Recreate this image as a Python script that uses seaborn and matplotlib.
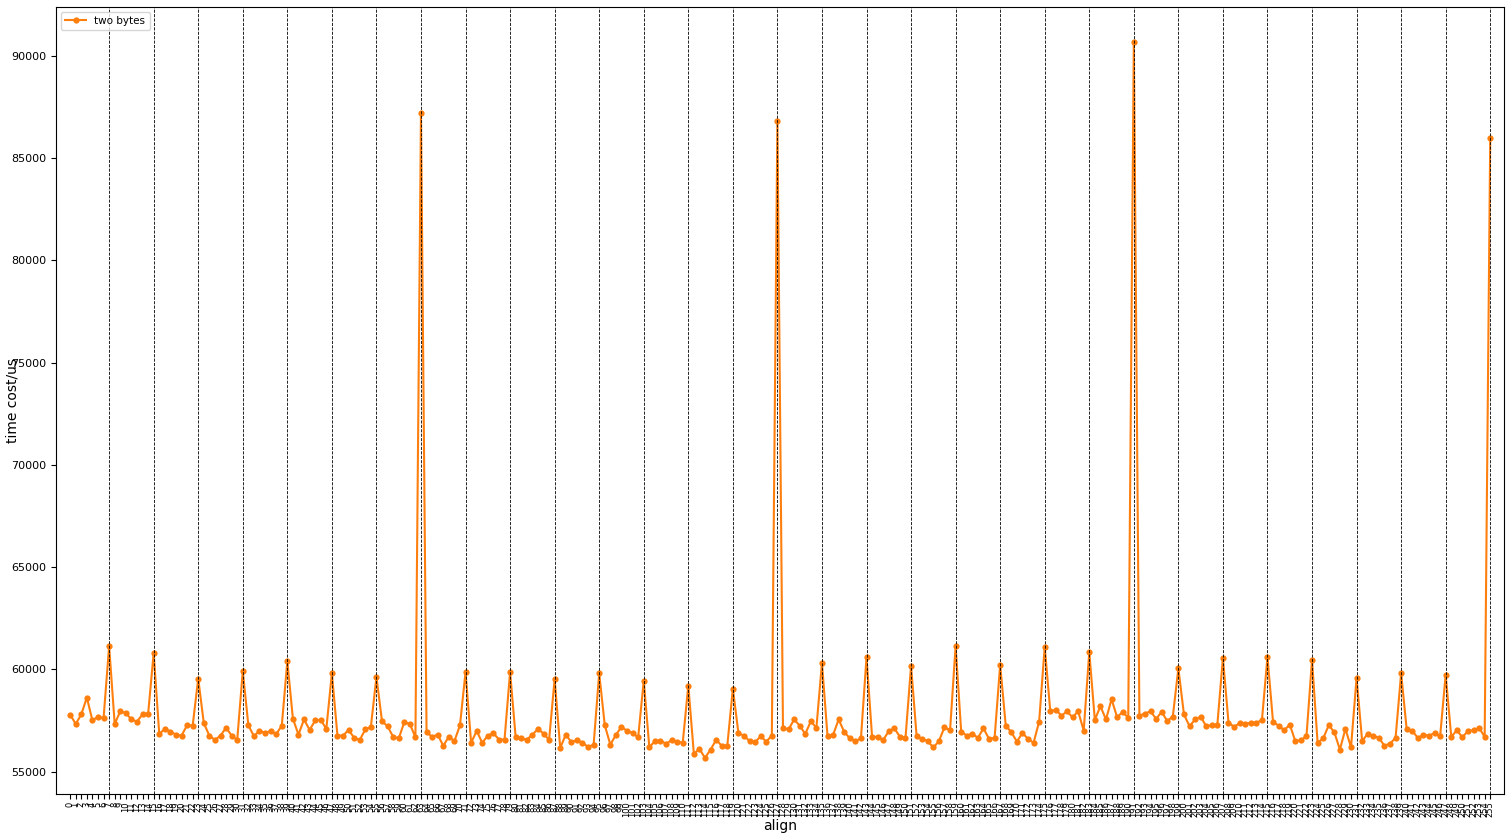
import matplotlib
matplotlib.use("Agg")
import matplotlib.pyplot as plt
import numpy as np
import pandas as pd
import seaborn as sns

# alignment offsets 0..255
align = list(range(256))

time_cost = [
    57790, 57330, 57800, 58620, 57500, 57690, 57610, 61130,
    57330, 57950, 57870, 57550, 57450, 57800, 57820, 60800,
    56840, 57090, 56960, 56810, 56760, 57270, 57250, 59550,
    57370, 56760, 56550, 56760, 57150, 56760, 56550, 59910,
    57270, 56730, 57010, 56890, 56990, 56840, 57240, 60400,
    57590, 56810, 57550, 57040, 57500, 57530, 57090, 59810,
    56760, 56760, 57040, 56650, 56550, 57060, 57190, 59630,
    57460, 57220, 56700, 56620, 57420, 57330, 56680, 87200,
    56930, 56700, 56810, 56260, 56710, 56490, 57270, 59870,
    56410, 56990, 56410, 56760, 56880, 56570, 56570, 59870,
    56680, 56620, 56570, 56800, 57090, 56860, 56550, 59520,
    56160, 56810, 56440, 56540, 56410, 56210, 56320, 59810,
    57270, 56320, 56800, 57190, 56990, 56890, 56680, 59450,
    56190, 56490, 56520, 56360, 56540, 56470, 56410, 59210,
    55870, 56110, 55670, 56080, 56550, 56270, 56260, 59060,
    56880, 56760, 56490, 56440, 56730, 56470, 56760, 86820,
    57140, 57060, 57550, 57250, 56840, 57460, 57140, 60310,
    56730, 56800, 57550, 56940, 56630, 56490, 56630, 60590,
    56700, 56700, 56550, 56980, 57120, 56700, 56650, 60170,
    56730, 56600, 56490, 56180, 56490, 57170, 57020, 61130,
    56960, 56760, 56860, 56650, 57120, 56600, 56650, 60220,
    57250, 56930, 56470, 56890, 56600, 56410, 57450, 61100,
    57950, 58020, 57740, 57940, 57660, 57950, 57010, 60840,
    57530, 58200, 57550, 58540, 57660, 57920, 57630, 90650,
    57740, 57840, 57950, 57580, 57920, 57480, 57690, 60050,
    57800, 57220, 57550, 57680, 57220, 57270, 57300, 60560,
    57400, 57190, 57370, 57350, 57380, 57400, 57500, 60610,
    57420, 57250, 57020, 57300, 56490, 56540, 56730, 60460,
    56410, 56620, 57270, 56930, 56080, 57090, 56190, 59580,
    56490, 56860, 56760, 56650, 56270, 56370, 56650, 59810,
    57060, 56990, 56650, 56800, 56760, 56880, 56730, 59730,
    56700, 57020, 56680, 56990, 57020, 57140, 56700, 86000,
]

# boundaries every 8 bytes
boundaries = list(range(7, 256, 8))

df = pd.DataFrame({"align": align, "time": time_cost})

fig, ax = plt.subplots(figsize=(15.12, 8.39), dpi=100)
fig.subplots_adjust(left=0.037, right=0.995, top=0.992, bottom=0.054)

sns.lineplot(data=df, x="align", y="time", marker="o", markersize=4.5,
             markeredgewidth=0, color="#ff7f0e", linewidth=1.5,
             label="two bytes", ax=ax)

for b in boundaries:
    ax.axvline(x=b, linestyle="--", color="black", linewidth=0.6)

ax.set_xticks(align)
ax.set_xticklabels([str(a) for a in align], rotation=90, fontsize=6)
ax.tick_params(axis="x", pad=2)
ax.tick_params(axis="y", labelsize=8)
ax.set_xlim(-2.55, 257.55)
ax.set_xlabel("align", fontsize=10, labelpad=1)
ax.set_ylabel("time cost/us", fontsize=10)
ax.yaxis.set_label_coords(-0.025, 0.5)
ax.legend(loc="upper left", fontsize=7.5)

fig.savefig("out.png", dpi=100)
